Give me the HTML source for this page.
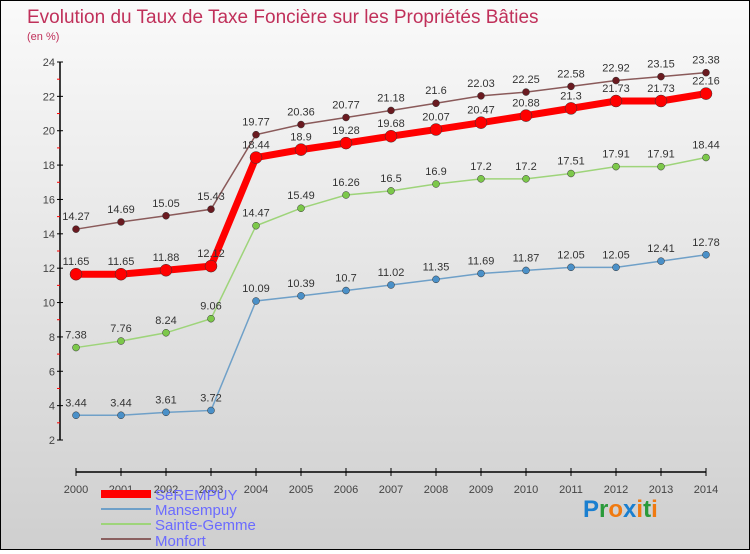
<!DOCTYPE html>
<html><head><meta charset="utf-8"><style>
body{margin:0;width:750px;height:550px;overflow:hidden;font-family:"Liberation Sans",sans-serif}
#wrap{position:relative;width:748px;height:548px;border:1px solid #000;background:linear-gradient(#fafafa,#cfcfcf)}
</style></head><body>
<div id="wrap">
<svg id="chart" width="748" height="548" xmlns="http://www.w3.org/2000/svg">
<text x="26" y="22" font-size="19" fill="#c0305a">Evolution du Taux de Taxe Foncière sur les Propriétés Bâties</text>
<text x="26" y="39" font-size="11" fill="#c0305a">(en %)</text>
<g id="axes"></g><g id="series"></g>
<g>
<rect x="100" y="489" width="50" height="8" fill="#f00"/>
<text x="154" y="499" font-size="15" fill="#6b6bff">SéREMPUY</text>
<rect x="100" y="507" width="50" height="2" fill="#6fa0c8"/>
<text x="154" y="514" font-size="15" fill="#6b6bff">Mansempuy</text>
<rect x="100" y="522" width="50" height="2" fill="#9ed47a"/>
<text x="154" y="529" font-size="15" fill="#6b6bff">Sainte-Gemme</text>
<rect x="100" y="537" width="50" height="2" fill="#8a6060"/>
<text x="154" y="545" font-size="15" fill="#6b6bff">Monfort</text>
</g>
<text x="582" y="516" font-size="24" font-weight="bold"><tspan fill="#1a7fd0">P</tspan><tspan fill="#2a9a3a">r</tspan><tspan fill="#f07a10">o</tspan><tspan fill="#1a7fd0">x</tspan><tspan fill="#f07a10">i</tspan><tspan fill="#2a9a3a">t</tspan><tspan fill="#f07a10">i</tspan></text>
</svg></div>
<script>
const years=[2000,2001,2002,2003,2004,2005,2006,2007,2008,2009,2010,2011,2012,2013,2014];
const serempuy=[11.65,11.65,11.88,12.12,18.44,18.9,19.28,19.68,20.07,20.47,20.88,21.3,21.73,21.73,22.16];
const mansempuy=[3.44,3.44,3.61,3.72,10.09,10.39,10.7,11.02,11.35,11.69,11.87,12.05,12.05,12.41,12.78];
const sainteGemme=[7.38,7.76,8.24,9.06,14.47,15.49,16.26,16.5,16.9,17.2,17.2,17.51,17.91,17.91,18.44];
const monfort=[14.27,14.69,15.05,15.43,19.77,20.36,20.77,21.18,21.6,22.03,22.25,22.58,22.92,23.15,23.38];
const yTicks=[2,4,6,8,10,12,14,16,18,20,22,24];
const NS="http://www.w3.org/2000/svg";
const xs=i=>75+i*45, ys=v=>439-(v-2)*(378/22);
function mk(t,a,p){const e=document.createElementNS(NS,t);for(const k in a)e.setAttribute(k,a[k]);p.appendChild(e);return e;}
const ax=document.getElementById('axes');
const yl=mk('line',{x1:59,y1:ys(24),x2:59,y2:ys(2),stroke:'#000','stroke-width':1.5},ax);


yTicks.forEach(v=>{
 mk('line',{x1:56,x2:62,y1:ys(v),y2:ys(v),stroke:'#000'},ax);
 mk('line',{x1:56,x2:59,y1:ys(v+1),y2:ys(v+1),stroke:v<24?'#f00':'none'},ax);
 const t=mk('text',{x:54,y:ys(v)+4,'text-anchor':'end','font-size':11,fill:'#444'},ax);t.textContent=v;
 
 
});
const xl=mk('line',{x1:xs(0),x2:xs(14),y1:471,y2:471,stroke:'#000','stroke-width':1.5},ax);


years.forEach((y,i)=>{
 mk('line',{x1:xs(i),x2:xs(i),y1:467,y2:475,stroke:'#000'},ax);
 const t=mk('text',{x:xs(i),y:492,'text-anchor':'middle','font-size':11,fill:'#444'},ax);t.textContent=y;
 
 
});
const sg=document.getElementById('series');
function draw(data,name,col,dot,w,r){
 const g=mk('g',{},sg);
 
 
 mk('polyline',{points:data.map((v,i)=>xs(i)+','+ys(v)).join(' '),fill:'none',stroke:col,'stroke-width':w},g);
 data.forEach((v,i)=>{
  const c=mk('circle',{cx:xs(i),cy:ys(v),r:r,fill:dot,stroke:'#333','stroke-width':0.5},g);
  
  
  const t=mk('text',{x:xs(i),y:ys(v)-9,'text-anchor':'middle','font-size':11,fill:'#333'},g);t.textContent=v;
  
  
 });
}
draw(mansempuy,'mansempuy','#6fa0c8','#4a90c8',1.5,3.5);
draw(sainteGemme,'sainte-gemme','#9ed47a','#7cc84a',1.5,3.5);
draw(monfort,'monfort','#8a5a5a','#6a1a20',1.5,3.5);
draw(serempuy,'serempuy','#f00','#f00',7,6);
</script>
</body></html>
